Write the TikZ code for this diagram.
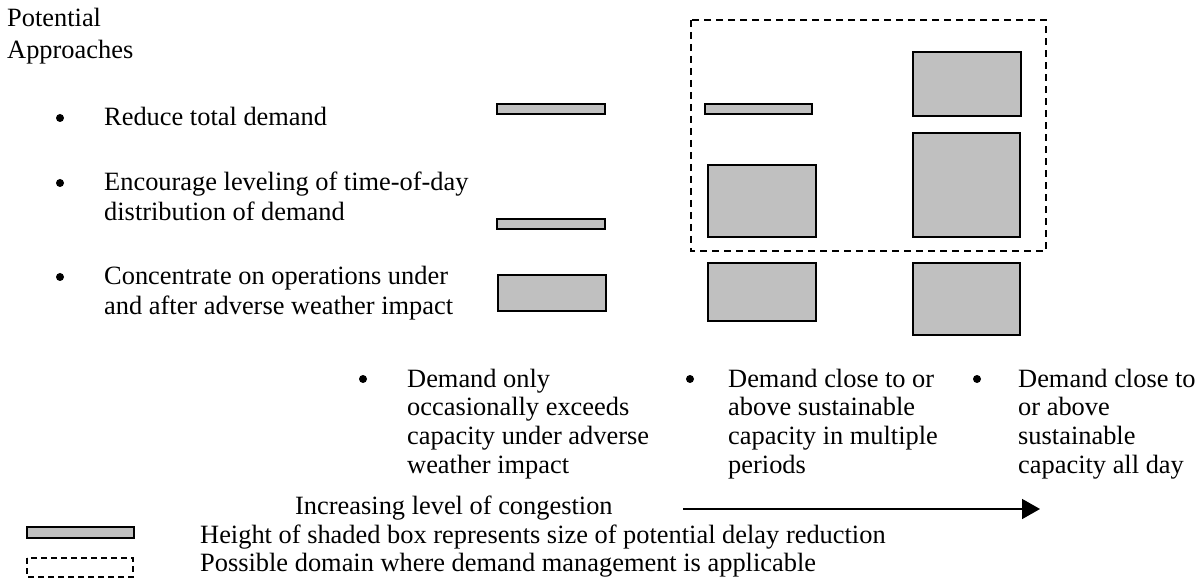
\documentclass[tikz,border=0pt]{standalone}
\usepackage{fontspec}
\setmainfont{Liberation Serif}
\usetikzlibrary{arrows.meta}
\definecolor{boxgray}{HTML}{C0C0C0}
\begin{document}
\begin{tikzpicture}[x=1pt,y=-1pt,
  txt/.style={anchor=base west, inner sep=0pt, font=\fontsize{26.4}{30}\selectfont},
  bul/.style={circle, fill=black, inner sep=0pt, minimum size=8pt},
  shaded/.style={draw=black, fill=boxgray, line width=1.3pt},
  dombox/.style={draw=black, line width=1.6pt, dash pattern=on 7pt off 5pt},
  trend/.style={draw=black, line width=1.6pt, -{Triangle[length=18pt,width=20pt]}}]
\useasboundingbox (0,0) rectangle (1202,585);

% heading
\node[txt] (head1) at (7,27) {Potential};
\node[txt] (head2) at (7,59) {Approaches};

% left bullet list
\node[bul] (b1) at (60,118) {};
\node[txt] (l1) at (104,126) {Reduce total demand};
\node[bul] (b2) at (60,183) {};
\node[txt] (l2a) at (104,191) {Encourage leveling of time-of-day};
\node[txt] (l2b) at (104,221) {distribution of demand};
\node[bul] (b3) at (60,277) {};
\node[txt] (l3a) at (104,285) {Concentrate on operations under};
\node[txt] (l3b) at (104,315) {and after adverse weather impact};

% domain (dashed)
\draw[dombox] (691,20) rectangle (1046,251);

% column 1 boxes
\draw[shaded] (497,104) rectangle (605,114);
\draw[shaded] (497,219) rectangle (605,229);
\draw[shaded] (498,275) rectangle (606,311);
% column 2 boxes
\draw[shaded] (705,104) rectangle (812,114);
\draw[shaded] (708,165) rectangle (816,237);
\draw[shaded] (708,263) rectangle (816,321);
% column 3 boxes
\draw[shaded] (913,52) rectangle (1021,116);
\draw[shaded] (913,133) rectangle (1020,237);
\draw[shaded] (913,263) rectangle (1020,335);

% bottom descriptions
\node[bul] (cb1) at (363,379) {};
\foreach \t [count=\i from 0] in {Demand only, occasionally exceeds, capacity under adverse, weather impact}
  \node[txt] (ca\i) at (407,{387+28.7*\i}) {\t};
\node[bul] (cb2) at (690,379) {};
\foreach \t [count=\i from 0] in {Demand close to or, above sustainable, capacity in multiple, periods}
  \node[txt] (cm\i) at (728,{387+28.7*\i}) {\t};
\node[bul] (cb3) at (977,379) {};
\foreach \t [count=\i from 0] in {Demand close to, or above, sustainable, capacity all day}
  \node[txt] (cr\i) at (1018,{387+28.7*\i}) {\t};

% congestion arrow
\node[txt] (incr) at (295,514) {Increasing level of congestion};
\coordinate (arrS) at (683,509);
\coordinate (arrE) at (1040,509);
\draw[trend] (arrS) -- (arrE);

% legend
\draw[shaded] (27,527) rectangle (134,538);
\node[txt] (leg1) at (200,543) {Height of shaded box represents size of potential delay reduction};
\draw[dombox, line width=1.3pt, dash pattern=on 6pt off 4pt] (27,558) rectangle (133,577);
\node[txt] (leg2) at (200,571) {Possible domain where demand management is applicable};
\end{tikzpicture}
\end{document}
